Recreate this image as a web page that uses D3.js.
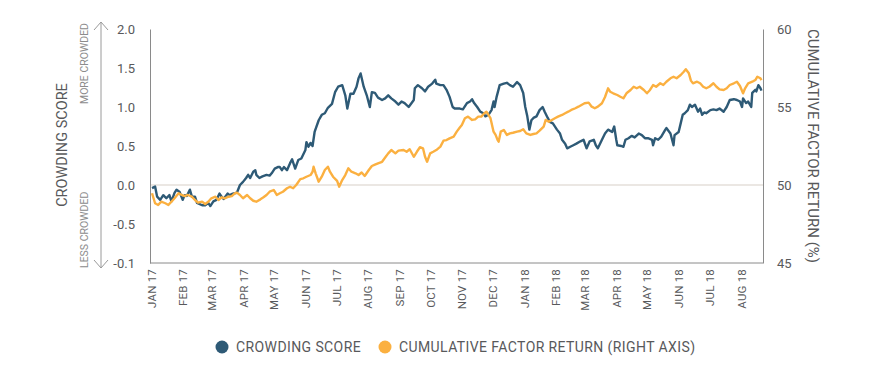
<!DOCTYPE html>
<html>
<head>
<meta charset="utf-8">
<script src="https://cdn.jsdelivr.net/npm/d3@7"></script>
<style>
  body { margin: 0; background: #fff; }
  text { font-family: Roboto, "DejaVu Sans", sans-serif; fill: #58595b; }
</style>
</head>
<body>
<div id="container"></div>
<script>
let width = 871;
let height = 377;

// days counted from 1 Jan 2017
let crowdDays = [1,4,6,9,12,15,18,20,23,25,28,31,33,35,38,40,43,45,50,53,56,58,61,64,67,69,71,75,77,80,84,87,90,93,95,97,100,102,103,106,109,113,116,118,121,124,126,128,130,133,136,138,141,144,147,151,152,154,156,158,160,164,167,170,173,177,180,183,187,190,192,195,198,201,203,205,208,211,214,216,219,222,226,229,232,235,239,242,245,248,252,257,258,261,265,268,271,275,278,279,283,286,289,292,295,297,302,305,309,312,314,316,319,322,325,327,330,333,335,336,338,341,345,348,351,354,358,361,364,366,368,370,372,374,377,380,383,385,388,390,393,397,400,402,405,407,410,413,416,420,423,426,429,433,435,437,441,444,447,451,453,455,456,460,462,464,467,470,473,477,480,483,486,490,491,493,496,499,503,504,508,511,512,516,518,520,522,525,527,529,532,535,537,539,541,543,547,550,553,556,560,563,566,570,573,576,578,579,582,584,587,588,591,592,594,596,597];
let crowdScore = [-0.04,-0.02,-0.15,-0.19,-0.13,-0.17,-0.13,-0.21,-0.10,-0.06,-0.09,-0.19,-0.13,-0.14,-0.06,-0.15,-0.15,-0.23,-0.26,-0.26,-0.23,-0.27,-0.21,-0.19,-0.11,-0.15,-0.18,-0.11,-0.13,-0.11,-0.10,0.00,0.04,0.09,0.13,0.09,0.17,0.19,0.13,0.09,0.11,0.13,0.12,0.15,0.21,0.23,0.23,0.19,0.23,0.19,0.28,0.33,0.21,0.32,0.34,0.45,0.55,0.49,0.54,0.50,0.68,0.83,0.90,0.92,0.99,1.04,1.19,1.26,1.28,1.15,0.98,1.17,1.17,1.26,1.37,1.43,1.26,1.15,1.00,1.19,1.18,1.12,1.09,1.11,1.15,1.11,1.07,1.03,1.07,1.05,1.00,1.09,1.24,1.28,1.24,1.20,1.26,1.30,1.35,1.30,1.28,1.28,1.22,1.13,1.00,0.98,0.98,0.97,1.05,1.07,1.10,1.05,1.00,0.94,0.92,0.88,0.90,0.96,1.07,1.00,1.13,1.28,1.30,1.31,1.28,1.26,1.32,1.28,1.18,1.00,0.88,0.71,0.83,0.86,0.88,0.96,1.00,0.94,0.86,0.81,0.79,0.71,0.66,0.58,0.53,0.47,0.49,0.51,0.53,0.56,0.58,0.47,0.56,0.58,0.51,0.47,0.58,0.66,0.71,0.68,0.75,0.58,0.51,0.50,0.49,0.58,0.60,0.63,0.61,0.66,0.64,0.60,0.60,0.58,0.51,0.60,0.58,0.62,0.71,0.73,0.66,0.51,0.64,0.68,0.79,0.90,0.92,0.96,1.03,1.00,1.03,0.94,0.98,0.90,0.93,0.92,0.96,0.97,0.96,0.98,0.94,1.00,1.09,1.10,1.09,1.07,1.00,1.11,1.05,1.07,1.00,1.18,1.22,1.20,1.28,1.24,1.21];

let returnDays = [1,4,7,10,14,17,20,23,27,30,33,36,40,43,46,50,53,56,59,63,66,69,72,76,79,82,84,87,90,94,97,100,103,107,110,113,116,120,123,126,129,133,136,139,142,146,149,152,156,158,159,161,164,167,170,173,175,178,182,184,187,190,193,196,200,203,206,209,213,216,219,222,226,229,232,235,239,242,247,250,253,257,260,263,266,268,270,273,276,279,283,286,289,292,296,299,302,304,307,310,314,317,320,323,326,328,332,335,337,339,340,342,345,348,351,354,358,361,364,367,371,374,377,380,384,386,389,392,395,398,402,405,408,411,415,418,421,424,428,431,434,437,441,444,447,449,452,456,459,462,465,469,472,475,478,482,485,488,491,494,498,501,504,508,511,514,518,521,523,526,528,530,534,537,540,543,546,550,553,556,560,563,566,570,573,576,579,581,584,588,591,593,596,597];
let factorReturn = [49.47,48.83,48.72,48.93,48.83,48.72,48.93,49.15,49.47,49.36,49.29,49.36,49.25,49.04,48.87,48.93,48.78,48.93,49.15,49.25,49.04,49.21,49.15,49.25,49.29,49.47,49.51,49.36,49.15,49.36,49.15,48.99,48.93,49.08,49.21,49.36,49.57,49.68,49.36,49.47,49.57,49.79,49.89,49.79,50.00,50.38,50.43,50.53,50.64,50.85,51.17,50.75,50.21,50.53,50.96,51.17,50.85,50.53,50.26,49.89,50.32,50.64,51.07,50.85,50.75,50.64,50.80,50.58,50.96,51.22,51.31,51.39,51.49,51.76,52.03,52.24,52.03,52.20,52.24,52.13,52.29,51.81,52.13,52.42,52.35,51.81,51.49,52.03,52.13,52.24,52.46,52.84,52.88,52.99,53.10,53.42,53.69,53.85,54.28,54.38,54.17,54.21,54.38,54.38,54.60,54.70,54.28,53.42,53.21,52.88,52.78,53.42,53.53,53.21,53.31,53.35,53.42,53.46,53.57,53.31,53.21,53.27,53.31,53.48,53.74,54.17,54.06,54.17,54.28,54.38,54.49,54.60,54.70,54.81,54.92,55.02,55.13,55.24,55.28,55.02,54.92,55.02,55.24,55.64,56.20,55.98,55.88,55.77,55.66,55.56,55.88,56.09,56.30,56.20,56.30,56.09,55.88,56.09,56.41,56.30,56.52,56.41,56.62,56.84,56.94,56.84,57.05,57.26,57.42,57.16,56.69,56.52,56.62,56.52,56.30,56.20,56.30,56.52,56.30,56.13,56.09,56.20,56.41,56.52,56.62,56.35,55.88,56.20,56.52,56.62,56.73,56.94,56.84,56.73];

let leftTicks = [-1, -0.5, 0, 0.5, 1, 1.5, 2];
let leftTickLabels = ["-0.1", "-0.5", "0.0", "0.5", "1.0", "1.5", "2.0"];
let rightTicks = [45, 50, 55, 60];
let monthLabels = ["JAN 17", "FEB 17", "MAR 17", "APR 17", "MAY 17", "JUN 17", "JUL 17", "AUG 17",
    "SEP 17", "OCT 17", "NOV 17", "DEC 17", "JAN 18", "FEB 18", "MAR 18", "APR 18", "MAY 18",
    "JUN 18", "JUL 18", "AUG 18"];
let legendNames = ["CROWDING SCORE", "CUMULATIVE FACTOR RETURN (RIGHT AXIS)"];
let legendColors = ["#2e5a76", "#fbb040"];

let start = new Date(2017, 0, 1);
let months = d3.timeMonth.range(start, new Date(2018, 8, 1));

let svg = d3.select("#container")
    .append("svg")
    .attr("width", width)
    .attr("height", height);

let x = d3.scaleTime()
    .domain([start, new Date(2018, 7, 22, 12)])
    .range([151, 763]);
let yLeft = d3.scaleLinear().domain([-1, 2]).range([263, 29]);
let yRight = d3.scaleLinear().domain([45, 60]).range([263, 29]);

let crowd = crowdDays.map((d, i) => ({ date: d3.timeDay.offset(start, d), v: crowdScore[i] }));
let ret = returnDays.map((d, i) => ({ date: d3.timeDay.offset(start, d), v: factorReturn[i] }));

// zero line
svg.append("line")
    .attr("x1", 150).attr("x2", 763)
    .attr("y1", yLeft(0)).attr("y2", yLeft(0))
    .attr("stroke", "#ebe7e3")
    .attr("stroke-width", 2);

// axes
let leftAxis = svg.append("g")
    .attr("transform", "translate(150,0)")
    .call(d3.axisLeft(yLeft).tickValues(leftTicks)
        .tickFormat((d, i) => leftTickLabels[i]).tickSize(0).tickPadding(15));

let rightAxis = svg.append("g")
    .attr("transform", "translate(763,0)")
    .call(d3.axisRight(yRight).tickValues(rightTicks).tickSize(0).tickPadding(14));

let bottomAxis = svg.append("g")
    .attr("transform", "translate(0,263)")
    .call(d3.axisBottom(x).tickValues(months)
        .tickFormat((d, i) => monthLabels[i]).tickSize(0));

bottomAxis.selectAll("text")
    .attr("transform", "rotate(-90)")
    .attr("x", -6)
    .attr("y", 0)
    .attr("dy", "0.35em")
    .style("text-anchor", "end");

[leftAxis, rightAxis, bottomAxis].forEach(g => {
    g.select(".domain").attr("stroke", "#8a8a8a").attr("stroke-width", 1);
    g.selectAll("text")
        .attr("font-family", "Roboto, sans-serif")
        .attr("fill", "#58595b");
});
leftAxis.selectAll("text").attr("font-size", 13);
rightAxis.selectAll("text").attr("font-size", 13);
bottomAxis.selectAll("text").attr("font-size", 11.5).attr("letter-spacing", 0.2);
bottomAxis.select(".domain").attr("d", "M150,0H763");

// lines
let line = (yScale) => d3.line()
    .x(d => x(d.date))
    .y(d => yScale(d.v));

svg.append("path")
    .datum(crowd)
    .attr("fill", "none")
    .attr("stroke", legendColors[0])
    .attr("stroke-width", 2.4)
    .attr("stroke-linejoin", "round")
    .attr("d", line(yLeft));

svg.append("path")
    .datum(ret)
    .attr("fill", "none")
    .attr("stroke", legendColors[1])
    .attr("stroke-width", 2.4)
    .attr("stroke-linejoin", "round")
    .attr("d", line(yRight));

// axis titles
svg.append("text")
    .attr("transform", "translate(67,145) rotate(-90)")
    .attr("text-anchor", "middle")
    .attr("font-size", 14.5)
    .text("CROWDING SCORE");

svg.append("text")
    .attr("transform", "translate(808,146) rotate(90)")
    .attr("text-anchor", "middle")
    .attr("font-size", 15)
    .text("CUMULATIVE FACTOR RETURN (%)");

// crowded arrow
svg.append("line")
    .attr("x1", 101).attr("x2", 101)
    .attr("y1", 22).attr("y2", 268)
    .attr("stroke", "#9a9a9a")
    .attr("stroke-width", 1);
svg.append("path")
    .attr("d", "M94,30L101,22L108,30M94,260L101,268L108,260")
    .attr("fill", "none")
    .attr("stroke", "#9a9a9a")
    .attr("stroke-width", 1);

svg.append("text")
    .attr("transform", "translate(88,23) rotate(-90)")
    .attr("text-anchor", "end")
    .attr("font-size", 10.5)
    .style("fill", "#8c8c8c")
    .text("MORE CROWDED");

svg.append("text")
    .attr("transform", "translate(88,268) rotate(-90)")
    .attr("text-anchor", "start")
    .attr("font-size", 10.5)
    .style("fill", "#8c8c8c")
    .text("LESS CROWDED");

// legend
let legendX = [222, 385];
let legend = svg.selectAll(".legendItem")
    .data(legendNames)
    .enter()
    .append("g")
    .attr("class", "legendItem")
    .attr("transform", (d, i) => "translate(" + legendX[i] + ",347)");

legend.append("circle")
    .attr("r", 6.5)
    .attr("fill", (d, i) => legendColors[i]);

legend.append("text")
    .attr("x", 14)
    .attr("y", 5)
    .attr("font-size", 14)
    .attr("letter-spacing", 0.4)
    .text(d => d);
</script>
</body>
</html>
